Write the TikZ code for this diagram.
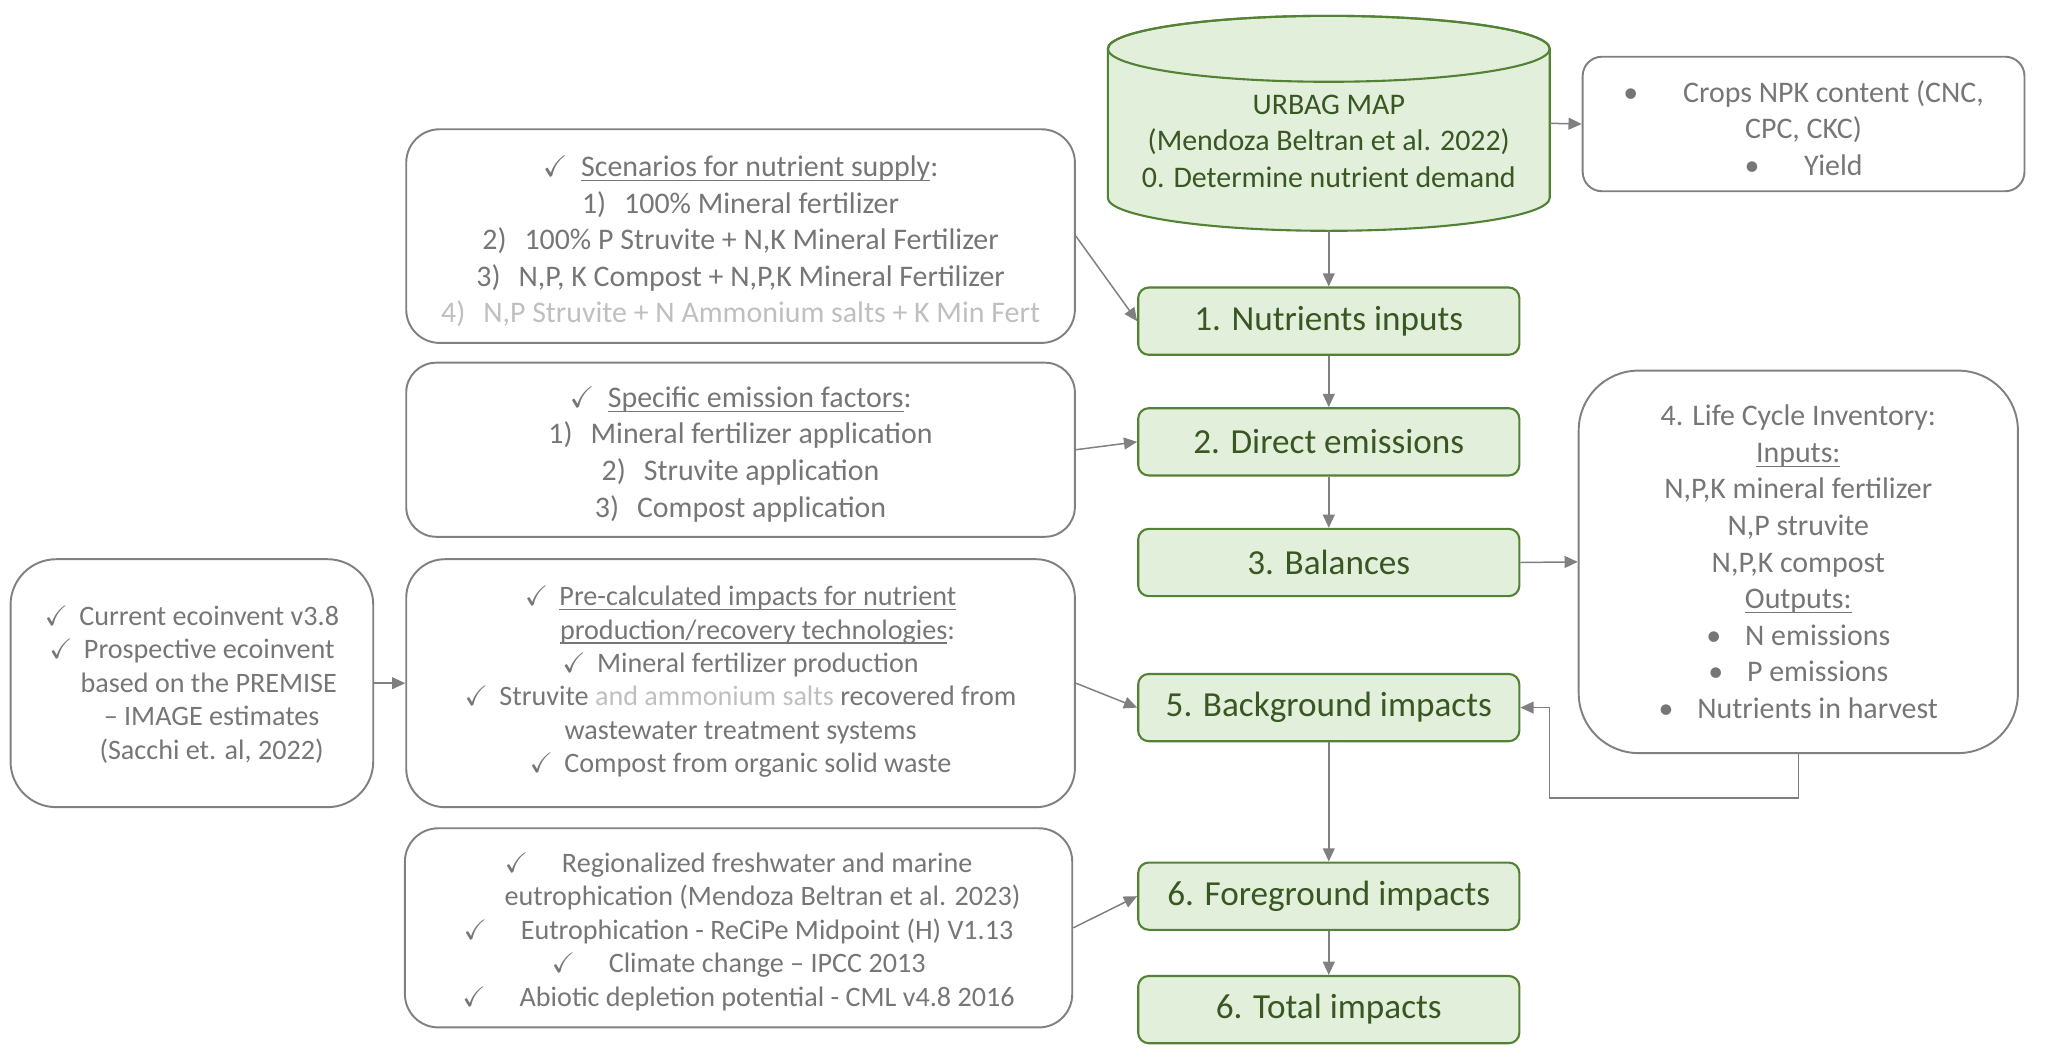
\documentclass[tikz,border=0pt]{standalone}
\usepackage{fontspec}
\usepackage{amssymb}
\setmainfont{Carlito}
\usetikzlibrary{arrows.meta,calc}
\definecolor{tgray}{RGB}{118,118,118}
\definecolor{lgray}{RGB}{191,191,191}
\definecolor{bgray}{RGB}{128,128,128}
\definecolor{gfill}{RGB}{226,239,218}
\definecolor{gline}{RGB}{84,130,53}
\definecolor{gtext}{RGB}{56,87,35}
\newcommand\ck{$\checkmark$}
\newcommand\ul[1]{\underline{\smash{#1}}}
\begin{document}
\begin{tikzpicture}[x=0.75pt,y=-0.75pt,
  greenbox/.style={draw=gline, fill=gfill, line width=1.2pt, rounded corners=6pt,
    minimum width=216.75pt, minimum height=38.25pt, text=gtext,
    font=\fontsize{20}{24}\selectfont, inner sep=0pt},
  graybox/.style={draw=bgray, line width=1.1pt, inner sep=0pt},
  graytext/.style={text=tgray, align=center, inner sep=0pt},
  fa/.style={font=\fontsize{17}{20.8}\selectfont},
  fb/.style={font=\fontsize{16}{19}\selectfont},
  arr/.style={draw=bgray, line width=0.85pt, -{Triangle[length=7.5pt,width=6.75pt]}},
]
\useasboundingbox (0,0) rectangle (1568,804);

% cylinder
\path[fill=gfill, draw=gline, line width=1.2pt] (840,37) -- (840,150)
  arc[start angle=180, end angle=360, x radius=125.625pt, y radius=18.75pt]
  -- (1175,37)
  arc[start angle=0, end angle=180, x radius=125.625pt, y radius=18.75pt] -- cycle;
\draw[gline, line width=1.2pt] (1007.5,37) ellipse[x radius=125.625pt, y radius=18.75pt];
\node[minimum width=251.25pt, minimum height=122.25pt, inner sep=0pt] (cyl) at (1007.5,93.5) {};
\node[fa, text=gtext, align=center] (cyltext) at (1007.5,107)
  {URBAG MAP\\(Mendoza Beltran et al. 2022)\\0. Determine nutrient demand};

% green boxes
\node[greenbox] (n1) at (1007.5,243.5) {1. Nutrients inputs};
\node[greenbox] (n2) at (1007.5,335) {2. Direct emissions};
\node[greenbox] (n3) at (1007.5,426.5) {3. Balances};
\node[greenbox] (n5) at (1007.5,536.5) {5. Background impacts};
\node[greenbox] (n6) at (1007.5,679.5) {6. Foreground impacts};
\node[greenbox] (n7) at (1007.5,765.5) {6. Total impacts};

% gray boxes
\node[graybox, rounded corners=11pt, minimum width=251.25pt, minimum height=76.5pt] (crops) at (1367.5,94) {};
\node[graytext, fa] (crops-t) at ([yshift=-2.25pt]crops.center)
  {•\hspace{1.5em}Crops NPK content (CNC,\\CPC, CKC)\\•\hspace{1.5em}Yield};

\node[graybox, rounded corners=19pt, minimum width=380.25pt, minimum height=121.5pt] (scen) at (561.5,179) {};
\node[graytext, fa] (scen-t) at ([yshift=-3pt]scen.center)
  {\ck\hspace{0.45em}\ul{Scenarios for nutrient supply}:\\
   1)\hspace{0.6em}100\% Mineral fertilizer\\
   2)\hspace{0.6em}100\% P Struvite + N,K Mineral Fertilizer\\
   3)\hspace{0.6em}N,P, K Compost + N,P,K Mineral Fertilizer\\
   {\color{lgray}4)\hspace{0.6em}N,P Struvite + N Ammonium salts + K Min Fert}};

\node[graybox, rounded corners=17pt, minimum width=380.25pt, minimum height=99pt] (emis) at (561.5,341) {};
\node[graytext, fa] (emis-t) at ([yshift=-2.6pt]emis.center)
  {\ck\hspace{0.45em}\ul{Specific emission factors}:\\
   1)\hspace{0.6em}Mineral fertilizer application\\
   2)\hspace{0.6em}Struvite application\\
   3)\hspace{0.6em}Compost application};

\node[graybox, rounded corners=34pt, minimum width=249.75pt, minimum height=217.5pt] (lci) at (1363.5,426) {};
\node[graytext, fa] (lci-t) at (lci.center)
  {4. Life Cycle Inventory:\\\ul{Inputs:}\\N,P,K mineral fertilizer\\N,P struvite\\N,P,K compost\\
   \ul{Outputs:}\\•\hspace{0.8em}N emissions\\•\hspace{0.8em}P emissions\\•\hspace{0.8em}Nutrients in harvest};

\node[graybox, rounded corners=26pt, minimum width=206.25pt, minimum height=141pt] (eco) at (145.5,518) {};
\node[graytext, fb] (eco-t) at ([yshift=-0.75pt]eco.center)
  {\ck\hspace{0.4em}Current ecoinvent v3.8\\\ck\hspace{0.4em}Prospective ecoinvent\\
   \hspace*{1.2em}based on the PREMISE\\\hspace*{1.4em}– IMAGE estimates\\\hspace*{1.4em}(Sacchi et. al, 2022)};

\node[graybox, rounded corners=22pt, minimum width=380.25pt, minimum height=141pt] (pre) at (561.5,518) {};
\node[graytext, fb] (pre-t) at ([yshift=0.75pt]pre.center)
  {\ck\hspace{0.4em}\ul{Pre-calculated impacts for nutrient}\\
   \hspace*{1.2em}\ul{production/recovery technologies}:\\
   \ck\hspace{0.4em}Mineral fertilizer production\\
   \ck\hspace{0.4em}Struvite {\color{lgray}and ammonium salts} recovered from\\
   wastewater treatment systems\\
   \ck\hspace{0.4em}Compost from organic solid waste};

\node[graybox, rounded corners=19pt, minimum width=379.5pt, minimum height=113.25pt] (meth) at (560,703.5) {};
\node[graytext, fb] (meth-t) at ([yshift=-2.25pt]meth.center)
  {\ck\hspace{1.2em}Regionalized freshwater and marine\\
   \hspace*{1.7em}eutrophication (Mendoza Beltran et al. 2023)\\
   \ck\hspace{1.2em}Eutrophication - ReCiPe Midpoint (H) V1.13\\
   \ck\hspace{1.2em}Climate change – IPCC 2013\\
   \ck\hspace{1.2em}Abiotic depletion potential - CML v4.8 2016};

% connectors
\draw[arr] (cyl.south) -- (n1.north);
\draw[arr] (cyl.east) -- (crops.west);
\draw[arr] (n1.south) -- (n2.north);
\draw[arr] (n2.south) -- (n3.north);
\draw[arr] (n5.south) -- (n6.north);
\draw[arr] (n6.south) -- (n7.north);
\draw[arr] (scen.east) -- (n1.west);
\draw[arr] (emis.east) -- (n2.west);
\draw[arr] (pre.east) -- (n5.west);
\draw[arr] (meth.east) -- (n6.west);
\draw[arr] (eco.east) -- (pre.west);
\draw[arr] (n3.east) -- (lci.west);
\coordinate (loopc) at (1175,605);
\draw[arr] (lci.south) |- (loopc) |- (n5.east);
\end{tikzpicture}
\end{document}
